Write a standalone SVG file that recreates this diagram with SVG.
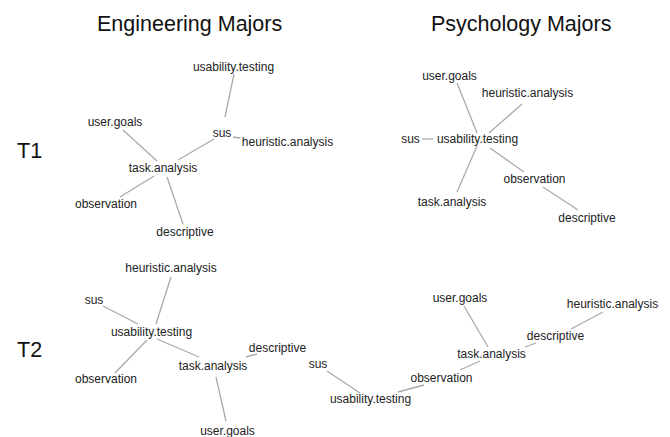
<svg xmlns="http://www.w3.org/2000/svg" width="670" height="437" viewBox="0 0 670 437">
<style>
.t{font-family:"Liberation Sans",Arial,sans-serif;font-size:12px;fill:#222;text-anchor:middle}
.h{font-family:"Liberation Sans",Arial,sans-serif;font-size:21.5px;fill:#111}
.e{stroke:#aaa;stroke-width:1.3;fill:none}
</style>
<rect width="670" height="437" fill="#fff"/>
<g id="titles">
<text class="h" x="97" y="31">Engineering Majors</text>
<text class="h" x="431" y="31">Psychology Majors</text>
<text class="h" x="17" y="158">T1</text>
<text class="h" x="17" y="357">T2</text>
</g>
<g id="connectors">
<line class="e" x1="234" y1="74" x2="225" y2="117"/>
<line class="e" x1="233" y1="137" x2="240" y2="138"/>
<line class="e" x1="214" y1="139" x2="178" y2="160"/>
<line class="e" x1="123" y1="130" x2="157" y2="161"/>
<line class="e" x1="154" y1="176" x2="120" y2="197"/>
<line class="e" x1="167" y1="177" x2="183" y2="224"/>
<line class="e" x1="457" y1="83" x2="477" y2="133"/>
<line class="e" x1="522" y1="104" x2="489" y2="133"/>
<line class="e" x1="422" y1="139" x2="433" y2="139"/>
<line class="e" x1="477" y1="146" x2="457" y2="192"/>
<line class="e" x1="490" y1="148" x2="524" y2="172"/>
<line class="e" x1="543" y1="187" x2="578" y2="210"/>
<line class="e" x1="171" y1="277" x2="156" y2="324"/>
<line class="e" x1="103" y1="306" x2="138" y2="324"/>
<line class="e" x1="147" y1="340" x2="115" y2="373"/>
<line class="e" x1="157" y1="339" x2="199" y2="357"/>
<line class="e" x1="246" y1="357" x2="257" y2="354"/>
<line class="e" x1="216" y1="377" x2="226" y2="421"/>
<line class="e" x1="327" y1="371" x2="360" y2="393"/>
<line class="e" x1="398" y1="392" x2="424" y2="385"/>
<line class="e" x1="460" y1="370" x2="480" y2="361"/>
<line class="e" x1="464" y1="306" x2="488" y2="347"/>
<line class="e" x1="525" y1="347" x2="536" y2="343"/>
<line class="e" x1="571" y1="329" x2="603" y2="312"/>
</g>
<g id="eng-t1">
<g id="e1-usability"><text class="t" x="233.5" y="71">usability.testing</text></g>
<g id="e1-sus"><text class="t" x="222" y="137">sus</text></g>
<g id="e1-heuristic"><text class="t" x="287.5" y="146">heuristic.analysis</text></g>
<g id="e1-usergoals"><text class="t" x="115" y="126">user.goals</text></g>
<g id="e1-task"><text class="t" x="163" y="172">task.analysis</text></g>
<g id="e1-observation"><text class="t" x="106" y="208">observation</text></g>
<g id="e1-descriptive"><text class="t" x="185" y="236">descriptive</text></g>
</g>
<g id="psy-t1">
<g id="p1-usergoals"><text class="t" x="449.5" y="80">user.goals</text></g>
<g id="p1-heuristic"><text class="t" x="527.5" y="97">heuristic.analysis</text></g>
<g id="p1-sus"><text class="t" x="410.5" y="143">sus</text></g>
<g id="p1-usability"><text class="t" x="477.5" y="143">usability.testing</text></g>
<g id="p1-observation"><text class="t" x="534.5" y="183">observation</text></g>
<g id="p1-task"><text class="t" x="452" y="206">task.analysis</text></g>
<g id="p1-descriptive"><text class="t" x="587" y="222">descriptive</text></g>
</g>
<g id="eng-t2">
<g id="e2-heuristic"><text class="t" x="171" y="272">heuristic.analysis</text></g>
<g id="e2-sus"><text class="t" x="94" y="304">sus</text></g>
<g id="e2-usability"><text class="t" x="151.5" y="336">usability.testing</text></g>
<g id="e2-observation"><text class="t" x="106" y="383">observation</text></g>
<g id="e2-task"><text class="t" x="213" y="370">task.analysis</text></g>
<g id="e2-descriptive"><text class="t" x="277.5" y="352">descriptive</text></g>
<g id="e2-usergoals"><text class="t" x="227.5" y="435">user.goals</text></g>
</g>
<g id="psy-t2">
<g id="p2-usergoals"><text class="t" x="460" y="302">user.goals</text></g>
<g id="p2-heuristic"><text class="t" x="612.5" y="308">heuristic.analysis</text></g>
<g id="p2-descriptive"><text class="t" x="555.5" y="340">descriptive</text></g>
<g id="p2-task"><text class="t" x="491.5" y="358">task.analysis</text></g>
<g id="p2-sus"><text class="t" x="318" y="368">sus</text></g>
<g id="p2-observation"><text class="t" x="441.5" y="382">observation</text></g>
<g id="p2-usability"><text class="t" x="370.5" y="403">usability.testing</text></g>
</g>
</svg>
